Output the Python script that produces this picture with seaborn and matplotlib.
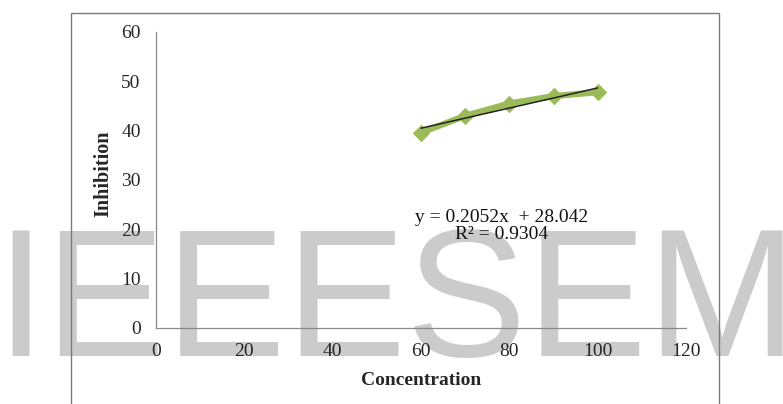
import numpy as np
import pandas as pd
import matplotlib
matplotlib.use("Agg")
import matplotlib.pyplot as plt
import seaborn as sns
from matplotlib.patches import Rectangle

# values
concentration = [60, 70, 80, 90, 100]
inhibition = [39.6, 43.0, 45.5, 47.0, 47.8]
x_ticks = [0, 20, 40, 60, 80, 100, 120]
y_ticks = [0, 10, 20, 30, 40, 50, 60]
equation_text = "y = 0.2052x  + 28.042\nR\u00b2 = 0.9304"

df = pd.DataFrame({"Concentration": concentration, "Inhibition": inhibition})

sns.set_style("white")
plt.rcParams["font.family"] = ["Liberation Serif", "DejaVu Serif"]

fig = plt.figure(figsize=(7.83, 4.04), dpi=100)
ax = fig.add_axes([156 / 783, 76 / 404, 530 / 783, 296 / 404])
ax.patch.set_alpha(0)

# watermark behind everything
fig.text(-5 / 783, 48 / 404, "IEEESEM", fontsize=130, color="#cbcbcb",
         family="Liberation Sans", ha="left", va="baseline", zorder=-5)

# outer chart frame
fig.patches.append(Rectangle((71 / 783, -0.1), (719 - 71) / 783, 1.1 - 13 / 404,
                             transform=fig.transFigure, fill=False,
                             edgecolor="#7a7a7a", lw=1.0, zorder=-4))

sns.lineplot(data=df, x="Concentration", y="Inhibition", ax=ax, color="#9bbb59",
             lw=4.5, marker="D", markersize=8, markeredgecolor="#9bbb59", zorder=3)
sns.regplot(data=df, x="Concentration", y="Inhibition", ax=ax, scatter=False,
            ci=None, truncate=True, line_kws={"color": "#222222", "lw": 1.1, "zorder": 4})

ax.text(78.2, 20.7, equation_text, ha="center", va="center", fontsize=14,
        linespacing=1.0, color="#111111")

ax.set_xlim(0, 120)
ax.set_ylim(0, 60)
ax.set_xticks(x_ticks)
ax.set_yticks(y_ticks)
ax.tick_params(axis="both", direction="out", length=4, width=0.8, color="#8a8a8a",
               labelsize=14, labelcolor="#262626", pad=7)
sns.despine(ax=ax)
for s in ["left", "bottom"]:
    ax.spines[s].set_color("#8a8a8a")
    ax.spines[s].set_linewidth(0.9)

ax.set_xlabel("Concentration", fontsize=14, fontweight="bold", va="top")
ax.set_ylabel("Inhibition", fontsize=14.5, fontweight="bold")
ax.xaxis.set_label_coords(0.5, -0.148)
ax.yaxis.set_label_coords(-0.08, 0.52)

fig.savefig("out.png", dpi=100)
